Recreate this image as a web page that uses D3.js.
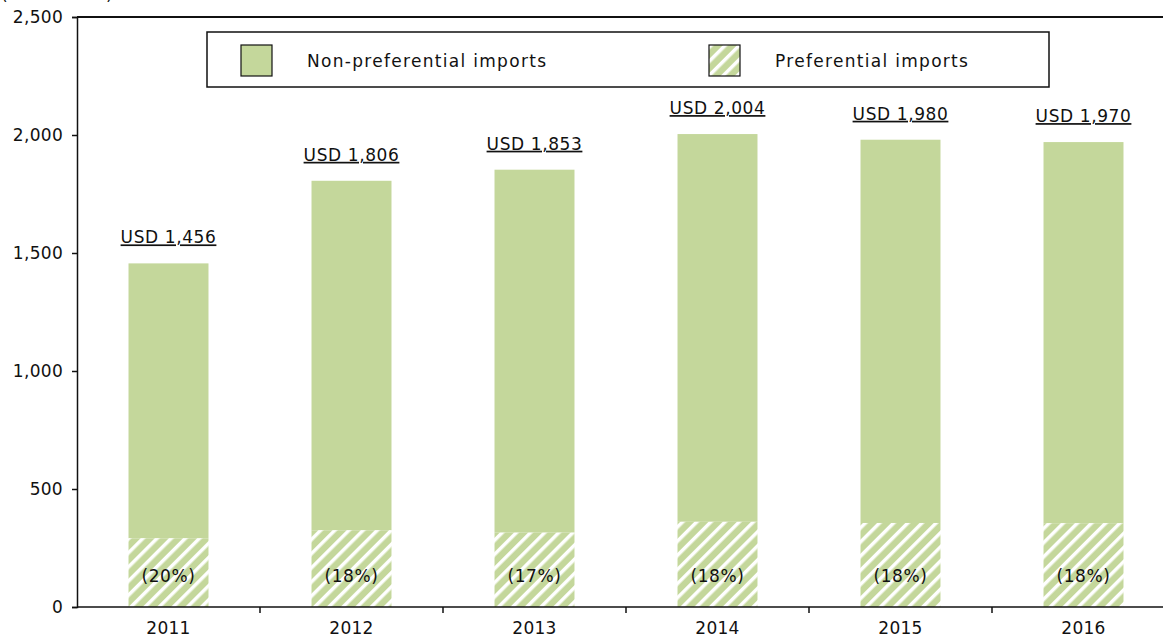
<!DOCTYPE html>
<html>
<head>
<meta charset="utf-8">
<script src="https://cdn.jsdelivr.net/npm/d3@7/dist/d3.min.js"></script>
<style>
  body { margin: 0; background: #fff; }
  svg text { font-family: 'DejaVu Sans', Verdana, sans-serif; fill: #111; }
</style>
</head>
<body>
<div id="chart"></div>
<script>
var years = ['2011', '2012', '2013', '2014', '2015', '2016'];
var totals = [1456, 1806, 1853, 2004, 1980, 1970];
var preferential = [291, 325, 315, 361, 356, 355];
var shares = ['(20%)', '(18%)', '(17%)', '(18%)', '(18%)', '(18%)'];
var yTicks = [0, 500, 1000, 1500, 2000, 2500];
var legendLabels = ['Non-preferential imports', 'Preferential imports'];

var width = 1163;
var height = 642;
var green = '#c4d79b';

var svg = d3.select('#chart').append('svg')
  .attr('width', width)
  .attr('height', height);

// hatch pattern for preferential part
var defs = svg.append('defs');
var pat = defs.append('pattern')
  .attr('id', 'hatch')
  .attr('patternUnits', 'userSpaceOnUse')
  .attr('width', 10)
  .attr('height', 10)
  .attr('patternTransform', 'rotate(45)');
pat.append('rect').attr('width', 10).attr('height', 10).attr('fill', green);
pat.append('rect').attr('x', 0).attr('width', 3.5).attr('height', 10).attr('fill', '#fff');

var x = d3.scaleBand()
  .domain(years)
  .range([77, 1175])
  .paddingInner(0.563)
  .paddingOuter(0.2815);

var y = d3.scaleLinear()
  .domain([0, 2500])
  .range([607, 17]);

var data = years.map(function(d, i) {
  return { year: d, total: totals[i], pref: preferential[i], share: shares[i] };
});

// unit label, cut off at the very top like the original
svg.append('text')
  .attr('x', 1)
  .attr('y', 0)
  .style('font-size', '17px')
  .text('(USD million)');

// top border
svg.append('line')
  .attr('x1', 77).attr('x2', width)
  .attr('y1', y(2500)).attr('y2', y(2500))
  .attr('stroke', '#111').attr('stroke-width', 2);

// bars
var bars = svg.selectAll('.bar')
  .data(data)
  .enter()
  .append('g')
  .attr('class', 'bar');

bars.append('rect')
  .attr('x', function(d) { return x(d.year); })
  .attr('y', function(d) { return y(d.total); })
  .attr('width', x.bandwidth())
  .attr('height', function(d) { return y(d.pref) - y(d.total); })
  .attr('fill', green);

bars.append('rect')
  .attr('x', function(d) { return x(d.year); })
  .attr('y', function(d) { return y(d.pref); })
  .attr('width', x.bandwidth())
  .attr('height', function(d) { return y(0) - y(d.pref); })
  .attr('fill', 'url(#hatch)');

bars.append('text')
  .attr('x', function(d) { return x(d.year) + x.bandwidth() / 2; })
  .attr('y', function(d) { return y(d.total) - 20; })
  .attr('text-anchor', 'middle')
  .style('font-size', '17px')
  .style('letter-spacing', '0.6px')
  .style('text-decoration', 'underline')
  .text(function(d) { return 'USD ' + d3.format(',')(d.total); });

bars.append('text')
  .attr('x', function(d) { return x(d.year) + x.bandwidth() / 2; })
  .attr('y', 582)
  .attr('text-anchor', 'middle')
  .style('font-size', '17px')
  .style('letter-spacing', '0.6px')
  .text(function(d) { return d.share; });

// axes
var yAxis = svg.append('g')
  .attr('transform', 'translate(77,0)')
  .call(d3.axisLeft(y).tickValues(yTicks).tickSize(5).tickPadding(9).tickFormat(d3.format(',')));

var xAxis = svg.append('g')
  .attr('transform', 'translate(0,607)')
  .call(d3.axisBottom(x).tickSize(0).tickPadding(15));

// boundary ticks for x axis
xAxis.selectAll('.bound')
  .data(years.slice(1))
  .enter()
  .append('line')
  .attr('x1', function(d) { return x(d) - x.step() * x.paddingInner() / 2; })
  .attr('x2', function(d) { return x(d) - x.step() * x.paddingInner() / 2; })
  .attr('y1', 0).attr('y2', 6)
  .attr('stroke', '#111').attr('stroke-width', 1.5);

[yAxis, xAxis].forEach(function(g) {
  g.select('.domain').attr('stroke', '#111').attr('stroke-width', 1.5);
  g.selectAll('.tick line').attr('stroke', '#111').attr('stroke-width', 1.5);
  g.selectAll('.tick text').style('font-size', '17px').style('letter-spacing', '0.3px')
    .attr('fill', '#111')
    .style('font-family', "'DejaVu Sans', Verdana, sans-serif");
});
xAxis.select('.domain').attr('d', 'M77,0H' + width);

// legend
var legend = svg.append('g');
legend.append('rect')
  .attr('x', 207).attr('y', 32)
  .attr('width', 842).attr('height', 55)
  .attr('fill', '#fff').attr('stroke', '#111').attr('stroke-width', 1.5);

var items = legend.selectAll('.item')
  .data(legendLabels)
  .enter()
  .append('g')
  .attr('transform', function(d, i) { return 'translate(' + (241 + i * 468) + ',45)'; });

items.append('rect')
  .attr('width', 31).attr('height', 31)
  .attr('fill', function(d, i) { return i === 0 ? green : 'url(#hatch)'; })
  .attr('stroke', '#111').attr('stroke-width', 1.2);

items.append('text')
  .attr('x', 66)
  .attr('y', 22)
  .style('font-size', '17px')
  .style('letter-spacing', '1.3px')
  .text(function(d) { return d; });
</script>
</body>
</html>
